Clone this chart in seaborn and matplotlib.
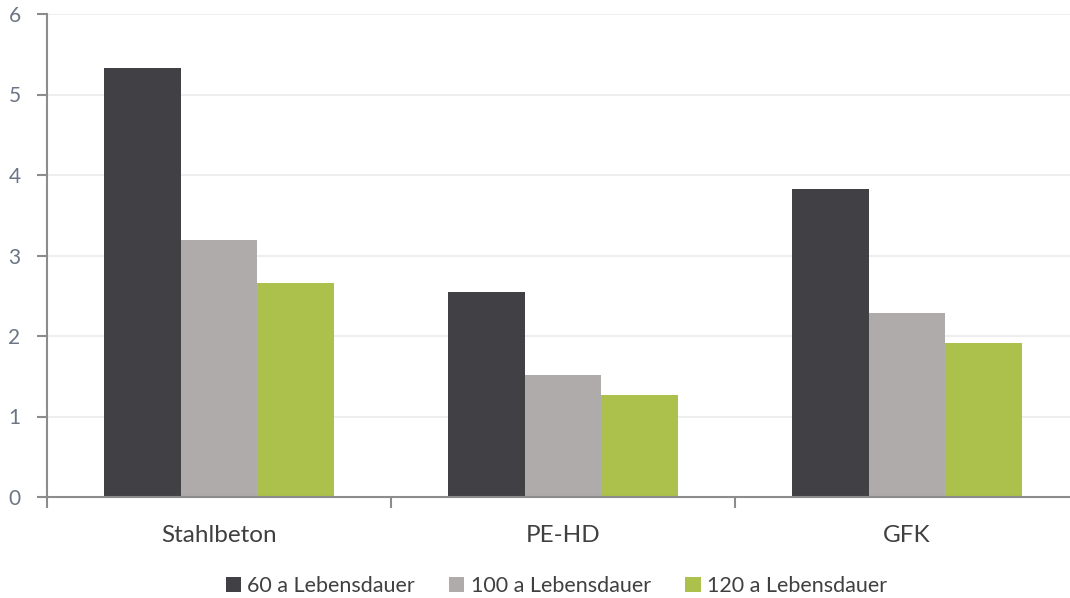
import matplotlib
matplotlib.use("Agg")
import matplotlib.pyplot as plt
from matplotlib.patches import Patch
import seaborn as sns
import pandas as pd

# Data
materials = ["Stahlbeton", "PE-HD", "GFK"]
series = ["60 a Lebensdauer", "100 a Lebensdauer", "120 a Lebensdauer"]
vals_60 = [5.33, 2.55, 3.83]
vals_100 = [3.19, 1.52, 2.29]
vals_120 = [2.66, 1.27, 1.91]
y_ticks = [0, 1, 2, 3, 4, 5, 6]

colors = ["#414045", "#afabab", "#acc14c"]

rows = []
for s, vals in zip(series, [vals_60, vals_100, vals_120]):
    for m, v in zip(materials, vals):
        rows.append({"Material": m, "Serie": s, "Wert": v})
df = pd.DataFrame(rows)

sns.set_theme(style="white")
plt.rcParams["font.family"] = ["Lato", "DejaVu Sans"]

fig = plt.figure(figsize=(10.70, 5.98), dpi=100)
ax = fig.add_axes([47 / 1070, 101 / 598, 1032 / 1070, 483 / 598])

sns.barplot(data=df, x="Material", y="Wert", hue="Serie", order=materials,
            hue_order=series, palette=colors, width=0.667, gap=0,
            saturation=1, edgecolor="none", linewidth=0, ax=ax, legend=False)

ax.set_xlim(-0.5, 2.5)
ax.set_ylim(0, 6)
ax.set_yticks(y_ticks)
ax.set_yticklabels([str(t) for t in y_ticks])
ax.set_xlabel("")
ax.set_ylabel("")

ax.yaxis.grid(True, color="#ebebeb", linewidth=1.2)
ax.xaxis.grid(False)
ax.set_axisbelow(True)

for side in ["top", "right"]:
    ax.spines[side].set_visible(False)
for side in ["left", "bottom"]:
    ax.spines[side].set_color("#8c8c8c")
    ax.spines[side].set_linewidth(1.5)

ax.tick_params(axis="y", which="major", left=True, length=7, width=1.5,
               color="#8c8c8c", pad=12, labelsize=15, labelcolor="#6b7585")
ax.tick_params(axis="x", which="major", bottom=False, length=0, pad=20,
               labelsize=17.5, labelcolor="#404040")
ax.set_xticks([-0.5, 0.5, 1.5, 2.5], minor=True)
ax.tick_params(axis="x", which="minor", bottom=True, length=8, width=1.5,
               color="#8c8c8c")

handles = [Patch(facecolor=c, edgecolor="none", label=s) for c, s in zip(colors, series)]
fig.legend(handles=handles, loc="center", bbox_to_anchor=(0.52, 0.02),
           ncol=3, frameon=False, fontsize=15.5, handlelength=0.7,
           handleheight=0.7, handletextpad=0.3, columnspacing=1.6,
           labelcolor="#404040")

fig.savefig("out.png", dpi=100)
